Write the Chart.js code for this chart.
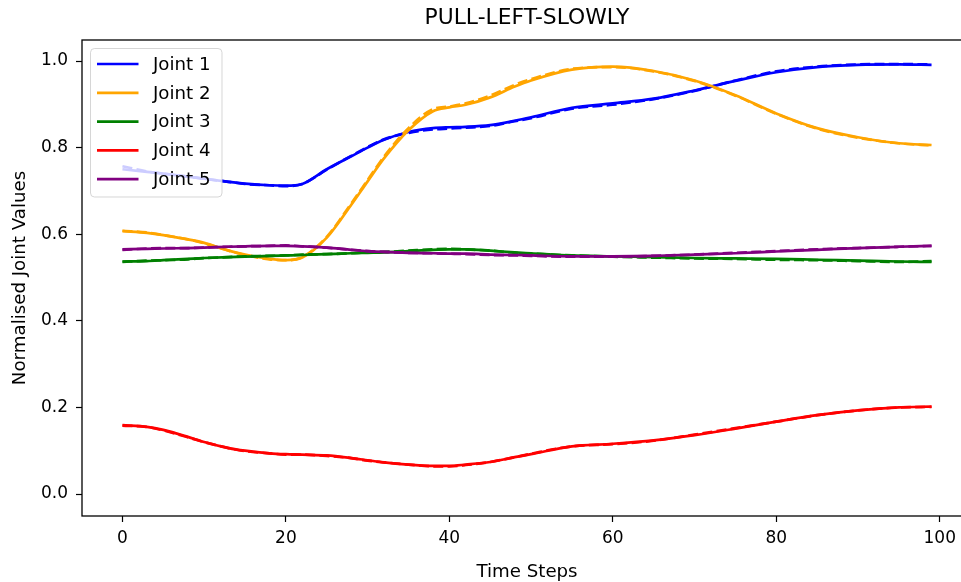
<!DOCTYPE html>
<html>
<head>
<meta charset="utf-8">
<script src="https://cdn.jsdelivr.net/npm/chart.js@4/dist/chart.umd.min.js"></script>
<style>
  html, body { margin: 0; padding: 0; background: #fff; overflow: hidden; width: 961px; height: 582px; }
  #wrap { width: 961px; height: 582px; overflow: hidden; position: relative; }
  #jointChart { display: block; }
</style>
</head>
<body>
<div id="wrap"><canvas id="jointChart" width="975" height="582" style="width:975px;height:582px"></canvas></div>
<script>
// time steps sampled from the figure
const steps = [0, 3, 5, 8, 10, 13, 15, 18, 20, 22, 25, 28, 30, 32, 35, 38, 40, 42, 45, 48, 50, 55, 60, 65, 70, 75, 80, 85, 90, 95, 99];

// solid lines (actual)
const joint1 = [0.750, 0.744, 0.740, 0.733, 0.728, 0.721, 0.717, 0.713, 0.712, 0.716, 0.750, 0.780, 0.800, 0.818, 0.836, 0.845, 0.847, 0.848, 0.852, 0.862, 0.870, 0.892, 0.902, 0.913, 0.932, 0.954, 0.974, 0.986, 0.991, 0.992, 0.991];
const joint2 = [0.607, 0.603, 0.598, 0.588, 0.580, 0.562, 0.553, 0.543, 0.540, 0.546, 0.592, 0.668, 0.722, 0.775, 0.840, 0.884, 0.893, 0.899, 0.916, 0.941, 0.955, 0.980, 0.987, 0.977, 0.955, 0.921, 0.879, 0.845, 0.824, 0.810, 0.806];
const joint3 = [0.537, 0.538, 0.540, 0.543, 0.545, 0.547, 0.548, 0.550, 0.551, 0.552, 0.554, 0.556, 0.557, 0.558, 0.561, 0.564, 0.565, 0.565, 0.562, 0.558, 0.556, 0.551, 0.549, 0.547, 0.545, 0.544, 0.543, 0.541, 0.539, 0.537, 0.536];
const joint4 = [0.159, 0.155, 0.148, 0.132, 0.120, 0.106, 0.100, 0.094, 0.092, 0.091, 0.089, 0.083, 0.078, 0.073, 0.068, 0.065, 0.065, 0.068, 0.074, 0.085, 0.092, 0.110, 0.116, 0.124, 0.136, 0.151, 0.167, 0.182, 0.193, 0.200, 0.202];
const joint5 = [0.565, 0.566, 0.567, 0.568, 0.569, 0.571, 0.572, 0.573, 0.573, 0.572, 0.569, 0.564, 0.561, 0.559, 0.557, 0.556, 0.555, 0.555, 0.553, 0.552, 0.551, 0.549, 0.549, 0.550, 0.553, 0.556, 0.560, 0.564, 0.568, 0.571, 0.573];

// dashed lines (predicted), almost on top of the solid ones
const pred1 = [0.757, 0.745, 0.740, 0.733, 0.728, 0.721, 0.716, 0.713, 0.711, 0.716, 0.749, 0.781, 0.801, 0.819, 0.834, 0.842, 0.844, 0.846, 0.850, 0.861, 0.868, 0.890, 0.899, 0.912, 0.931, 0.955, 0.976, 0.987, 0.992, 0.993, 0.992];
const pred2 = [0.608, 0.604, 0.598, 0.588, 0.579, 0.562, 0.552, 0.542, 0.540, 0.547, 0.594, 0.671, 0.725, 0.779, 0.845, 0.889, 0.895, 0.902, 0.920, 0.945, 0.958, 0.982, 0.986, 0.976, 0.954, 0.920, 0.878, 0.844, 0.823, 0.810, 0.805];
const pred3 = [0.536, 0.539, 0.540, 0.542, 0.545, 0.547, 0.549, 0.550, 0.551, 0.553, 0.554, 0.556, 0.558, 0.559, 0.562, 0.565, 0.566, 0.565, 0.562, 0.557, 0.555, 0.551, 0.548, 0.546, 0.544, 0.543, 0.541, 0.540, 0.538, 0.536, 0.538];
const pred4 = [0.158, 0.155, 0.147, 0.131, 0.120, 0.106, 0.099, 0.094, 0.091, 0.091, 0.088, 0.083, 0.077, 0.073, 0.068, 0.064, 0.064, 0.067, 0.074, 0.085, 0.093, 0.110, 0.115, 0.123, 0.137, 0.152, 0.167, 0.182, 0.193, 0.200, 0.201];
const pred5 = [0.564, 0.567, 0.568, 0.568, 0.569, 0.571, 0.572, 0.573, 0.574, 0.572, 0.569, 0.564, 0.561, 0.559, 0.557, 0.556, 0.555, 0.554, 0.552, 0.551, 0.550, 0.548, 0.548, 0.550, 0.553, 0.557, 0.561, 0.565, 0.568, 0.571, 0.573];

const jointNames = ['Joint 1', 'Joint 2', 'Joint 3', 'Joint 4', 'Joint 5'];
const jointColors = ['#0000ff', '#ffa500', '#008000', '#ff0000', '#800080'];
const xTicks = [0, 20, 40, 60, 80, 100];
const yTicks = [0.0, 0.2, 0.4, 0.6, 0.8, 1.0];

const FONT = 'DejaVu Sans';
const TICK_FS = 17;
const LABEL_FS = 18.2;
const LW = 2.7;

const actual = [joint1, joint2, joint3, joint4, joint5];
const predicted = [pred1, pred2, pred3, pred4, pred5];

const toPoints = arr => arr.map((v, i) => ({ x: steps[i], y: v }));

const datasets = [];
actual.forEach((arr, i) => {
    datasets.push({
        label: jointNames[i],
        data: toPoints(arr),
        borderColor: jointColors[i],
        borderWidth: LW,
        pointRadius: 0,
        cubicInterpolationMode: 'monotone',
    });
    datasets.push({
        label: jointNames[i] + ' (pred)',
        data: toPoints(predicted[i]),
        borderColor: jointColors[i],
        borderWidth: LW,
        borderDash: [10, 4.3],
        pointRadius: 0,
        cubicInterpolationMode: 'monotone',
    });
});
// matplotlib draws later lines on top
datasets.forEach((d, i) => { d.order = datasets.length - i; });

// frame, title and the legend inside the axes
const framePlugin = {
    id: 'frameAndLegend',
    afterDatasetsDraw(chart) {
        const { ctx, chartArea: a } = chart;
        ctx.save();
        // legend box
        const lx = 90.5, ly = 48.5, lw = 131.5, lh = 148.5;
        ctx.beginPath();
        ctx.roundRect(lx, ly, lw, lh, 4);
        ctx.fillStyle = 'rgba(255,255,255,0.8)';
        ctx.fill();
        ctx.strokeStyle = 'rgba(204,204,204,0.8)';
        ctx.lineWidth = 1;
        ctx.stroke();
        ctx.font = LABEL_FS + 'px "' + FONT + '"';
        ctx.textBaseline = 'middle';
        ctx.textAlign = 'left';
        jointNames.forEach((name, i) => {
            const y = 64 + i * 28.8;
            ctx.beginPath();
            ctx.moveTo(97, y);
            ctx.lineTo(138.5, y);
            ctx.strokeStyle = jointColors[i];
            ctx.lineWidth = LW;
            ctx.stroke();
            ctx.fillStyle = '#000';
            ctx.fillText(name, 153, y + 1);
        });
        // the source image is cut just short of the right spine
        ctx.fillStyle = '#fff';
        ctx.fillRect(952, a.top + 1, 30, a.bottom - a.top - 2);
        // axes frame
        ctx.strokeStyle = '#000';
        ctx.lineWidth = 1.3;
        ctx.strokeRect(a.left, a.top, a.right - a.left, a.bottom - a.top);
        // title
        ctx.fillStyle = '#000';
        ctx.font = (LABEL_FS * 1.2) + 'px "' + FONT + '"';
        ctx.textAlign = 'center';
        ctx.fillText('PULL-LEFT-SLOWLY', (a.left + a.right) / 2, 18.5);
        ctx.restore();
    }
};

const ctx = document.getElementById('jointChart').getContext('2d');

const jointChart = new Chart(ctx, {
    type: 'line',
    data: { datasets: datasets },
    options: {
        responsive: false,
        maintainAspectRatio: false,
        animation: false,
        layout: { padding: { top: 40, right: 3, left: 0, bottom: 0 } },
        plugins: {
            legend: { display: false },
            tooltip: { enabled: false },
            title: { display: false }
        },
        scales: {
            x: {
                type: 'linear',
                min: -4.95,
                max: 103.95,
                afterBuildTicks: s => { s.ticks = xTicks.map(v => ({ value: v })); },
                afterFit: s => { s.height = 66; },
                ticks: {
                    color: '#000',
                    font: { family: FONT, size: TICK_FS },
                    padding: 6,
                    maxRotation: 0,
                    callback: v => String(v)
                },
                grid: {
                    drawOnChartArea: false,
                    tickLength: 6,
                    tickColor: '#000',
                    tickWidth: 1.2
                },
                border: { display: false },
                title: {
                    display: true,
                    text: 'Time Steps',
                    color: '#000',
                    font: { family: FONT, size: LABEL_FS },
                    padding: { top: 0, bottom: -1 }
                }
            },
            y: {
                type: 'linear',
                min: -0.0508,
                max: 1.0485,
                afterBuildTicks: s => { s.ticks = yTicks.map(v => ({ value: v })); },
                afterFit: s => { s.width = 82; },
                ticks: {
                    color: '#000',
                    font: { family: FONT, size: TICK_FS },
                    padding: 8,
                    callback: v => v.toFixed(1)
                },
                grid: {
                    drawOnChartArea: false,
                    tickLength: 6,
                    tickColor: '#000',
                    tickWidth: 1.2
                },
                border: { display: false },
                title: {
                    display: true,
                    text: 'Normalised Joint Values',
                    color: '#000',
                    font: { family: FONT, size: LABEL_FS },
                    padding: { top: 9, bottom: 0 }
                }
            }
        }
    },
    plugins: [framePlugin]
});
</script>
</body>
</html>
